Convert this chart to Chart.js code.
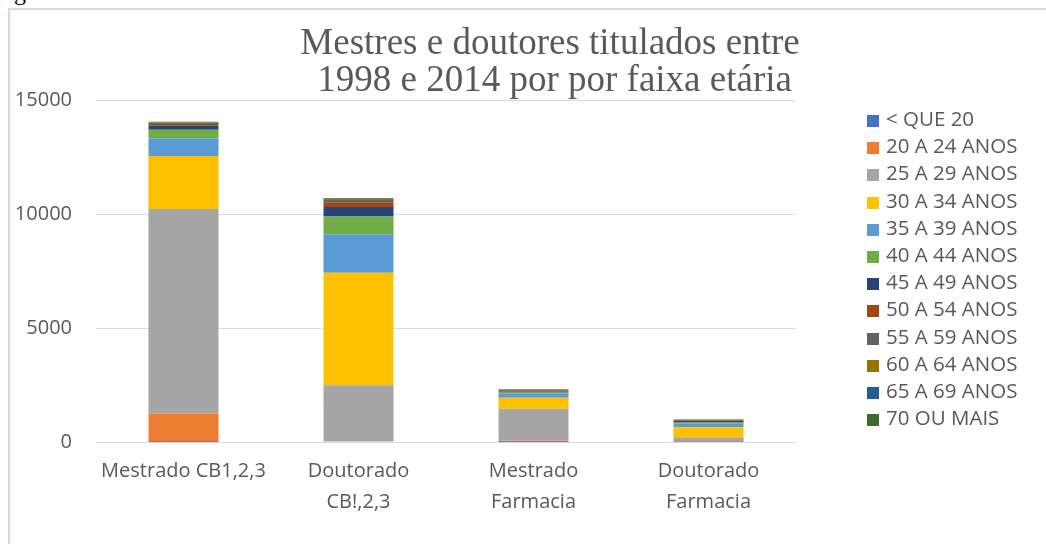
<!DOCTYPE html>
<html>
<head>
<meta charset="utf-8">
<script src="https://cdn.jsdelivr.net/npm/chart.js@4"></script>
<style>
    body { margin: 0; background: #fff; width: 1046px; height: 544px; overflow: hidden; position: relative; }
    #frame { position: absolute; left: 8px; top: 8px; width: 1060px; height: 560px; border: 2px solid #d9d9d9; box-sizing: border-box; }
    #chart-wrap { position: absolute; left: 0; top: 0; width: 1046px; height: 544px; }
    #stray { position: absolute; left: 14px; top: -21px; font: 24px "Liberation Serif", serif; color: #000; }
    #title { position: absolute; left: 200px; width: 700px; top: 23px; text-align: center;
        font: 37px "Liberation Serif", "Times New Roman", serif; color: #595959; line-height: 37px; white-space: pre; }
    #legend { position: absolute; left: 867px; top: 105px; list-style: none; margin: 0; padding: 0;
        font: 20.5px "Open Sans", sans-serif; color: #595959; }
    #legend li { height: 27.2px; line-height: 27.2px; white-space: nowrap; }
    #legend .sw { display: inline-block; width: 12px; height: 12px; margin-right: 7px; vertical-align: -1px; }
</style>
</head>
<body>
<div id="stray">g</div>
<div id="frame"></div>
<div id="chart-wrap"><canvas id="grafico" width="1046" height="544"></canvas></div>
<div id="title">Mestres e doutores titulados entre
 1998 e 2014 por por faixa etária</div>
<ul id="legend"></ul>
<script>
// Categorias e faixas etárias
const categorias = [
    "Mestrado CB1,2,3",
    ["Doutorado", "CB!,2,3"],
    ["Mestrado", "Farmacia"],
    ["Doutorado", "Farmacia"],
];
const faixas = [
    "< QUE 20", "20 A 24 ANOS", "25 A 29 ANOS", "30 A 34 ANOS",
    "35 A 39 ANOS", "40 A 44 ANOS", "45 A 49 ANOS", "50 A 54 ANOS",
    "55 A 59 ANOS", "60 A 64 ANOS", "65 A 69 ANOS", "70 OU MAIS",
];
const cores = [
    "#4472C4", "#ED7D31", "#A5A5A5", "#FFC000", "#5B9BD5", "#70AD47",
    "#264478", "#9E480E", "#636363", "#997300", "#255E91", "#43682B",
];

// Valores (estimados)
const menos20 = [5, 0, 2, 0];
const de20a24 = [1250, 20, 60, 5];
const de25a29 = [8965, 2470, 1400, 190];
const de30a34 = [2325, 4930, 480, 455];
const de35a39 = [770, 1690, 200, 175];
const de40a44 = [380, 775, 60, 55];
const de45a49 = [190, 425, 40, 40];
const de50a54 = [60, 200, 30, 30];
const de55a59 = [45, 105, 25, 25];
const de60a64 = [20, 40, 10, 10];
const de65a69 = [10, 20, 5, 5];
const de70mais = [25, 30, 10, 10];

const yTicks = [0, 5000, 10000, 15000];

const series = [menos20, de20a24, de25a29, de30a34, de35a39, de40a44,
    de45a49, de50a54, de55a59, de60a64, de65a69, de70mais];

const datasets = series.map((valores, i) => ({
    label: faixas[i],
    data: valores,
    backgroundColor: cores[i],
    borderWidth: 0,
    barPercentage: 0.4,
    categoryPercentage: 1,
}));

const fonte = { family: "'Open Sans', sans-serif", size: 20 };

new Chart(document.getElementById("grafico"), {
    type: "bar",
    data: { labels: categorias, datasets: datasets },
    options: {
        responsive: false,
        animation: false,
        devicePixelRatio: 1,
        layout: { padding: { left: 13, right: 250, top: 100, bottom: 12 } },
        plugins: {
            legend: { display: false },
            title: { display: false },
            tooltip: { enabled: false },
        },
        scales: {
            x: {
                stacked: true,
                grid: { display: false, drawTicks: false },
                border: { display: false },
                ticks: { color: "#595959", font: { ...fonte, lineHeight: 1.55 }, padding: 14, maxRotation: 0 },
            },
            y: {
                stacked: true,
                min: 0,
                max: 15000,
                afterBuildTicks: (axis) => { axis.ticks = yTicks.map((v) => ({ value: v })); },
                afterFit: (axis) => { axis.width = 83; },
                grid: { color: "#d9d9d9", lineWidth: 1, drawTicks: false },
                border: { display: false },
                ticks: { color: "#595959", font: fonte, padding: 24, callback: (v) => String(v) },
            },
        },
    },
});

// Legenda
const legenda = document.getElementById("legend");
faixas.forEach((nome, i) => {
    const li = document.createElement("li");
    li.innerHTML = `<span class="sw" style="background:${cores[i]}"></span>${nome}`;
    legenda.appendChild(li);
});
</script>
</body>
</html>
